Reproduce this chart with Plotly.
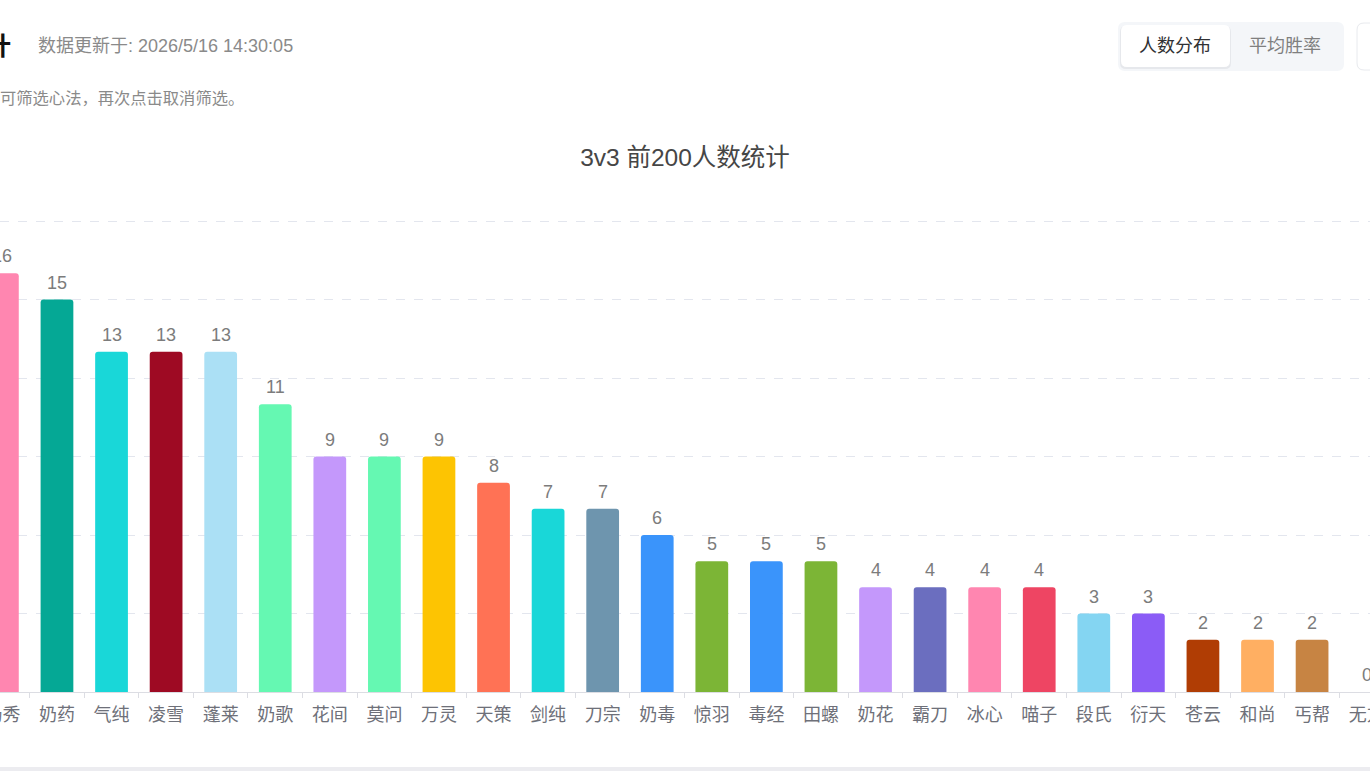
import plotly.graph_objects as go

categories = ["奶秀", "奶药", "气纯", "凌雪", "蓬莱", "奶歌", "花间", "莫问", "万灵", "天策",
              "剑纯", "刀宗", "奶毒", "惊羽", "毒经", "田螺", "奶花", "霸刀", "冰心", "喵子",
              "段氏", "衍天", "苍云", "和尚", "丐帮", "无方"]
counts = [16, 15, 13, 13, 13, 11, 9, 9, 9, 8, 7, 7, 6, 5, 5, 5, 4, 4, 4, 4, 3, 3, 2, 2, 2, 0]
bar_colors = ["#FF86B0", "#05A895", "#19D7D8", "#9E0A23", "#ABE0F5", "#65F8B2", "#C498FB", "#65F8B2",
              "#FDC402", "#FF7255", "#19D7D8", "#6E95AE", "#3A94FB", "#7CB536", "#3A94FB", "#7CB536",
              "#C498FB", "#6B6EBF", "#FF86B0", "#EE4563", "#84D5F2", "#8B5CF6", "#B03D04", "#FFAF62",
              "#C78443", "#999999"]
y_ticks = [0, 3, 6, 9, 12, 15, 18]

W, H = 1370, 771
PT, PB = 214, 692      # plot area top/bottom in pixels
Y18_PIX = 221          # where the 18 gridline sits
Y_MAX = 18 * (PB - PT) / (PB - Y18_PIX)

def px(x):
    return x / W

def py(y):
    return (PB - y) / (PB - PT)

FONT = "Liberation Sans, Noto Sans CJK SC, Microsoft YaHei, sans-serif"

fig = go.Figure()
fig.add_trace(go.Bar(
    x=categories, y=counts,
    marker=dict(color=bar_colors, cornerradius=3, line=dict(width=0)),
    width=0.6, hoverinfo="x+y", showlegend=False,
))

annotations = []
for c, v in zip(categories, counts):
    annotations.append(dict(x=c, y=v, xref="x", yref="y", text=str(v), showarrow=False,
                            yanchor="bottom", yshift=5,
                            font=dict(size=18, color="#7c7c7c", family=FONT)))

def rounded_rect(x0, y0, x1, y1, r):
    pts = []
    pts.append(f"M {px(x0 + r)},{py(y0)}")
    pts.append(f"L {px(x1 - r)},{py(y0)}")
    pts.append(f"Q {px(x1)},{py(y0)} {px(x1)},{py(y0 + r)}")
    pts.append(f"L {px(x1)},{py(y1 - r)}")
    pts.append(f"Q {px(x1)},{py(y1)} {px(x1 - r)},{py(y1)}")
    pts.append(f"L {px(x0 + r)},{py(y1)}")
    pts.append(f"Q {px(x0)},{py(y1)} {px(x0)},{py(y1 - r)}")
    pts.append(f"L {px(x0)},{py(y0 + r)}")
    pts.append(f"Q {px(x0)},{py(y0)} {px(x0 + r)},{py(y0)}")
    pts.append("Z")
    return " ".join(pts)

shapes = [
    dict(type="path", xref="paper", yref="paper", path=rounded_rect(1118, 22, 1344, 71, 7),
         fillcolor="#f4f6f9", line=dict(width=0), layer="below"),
    dict(type="path", xref="paper", yref="paper", path=rounded_rect(1120, 26, 1231, 69, 6),
         fillcolor="#e6e8ec", line=dict(width=0), layer="below"),
    dict(type="path", xref="paper", yref="paper", path=rounded_rect(1121, 25, 1230, 67, 6),
         fillcolor="#ffffff", line=dict(width=0), layer="below"),
    dict(type="path", xref="paper", yref="paper", path=rounded_rect(1357, 23, 1390, 70, 7),
         fillcolor="#ffffff", line=dict(width=1, color="#e8eaee"), layer="below"),
    dict(type="rect", xref="paper", yref="paper", x0=px(0), x1=px(W), y0=py(767), y1=py(771),
         fillcolor="#ececf0", line=dict(width=0), layer="below"),
]

annotations += [
    dict(xref="paper", yref="paper", x=px(13), y=py(46), text="<b>心法统计</b>", showarrow=False,
         xanchor="right", yanchor="middle", font=dict(size=25, color="#111111", family=FONT)),
    dict(xref="paper", yref="paper", x=px(36), y=py(46), text="数据更新于: 2026/5/16 14:30:05",
         showarrow=False, xanchor="left", yanchor="middle",
         font=dict(size=18, color="#8a8a8a", family=FONT)),
    dict(xref="paper", yref="paper", x=px(-2), y=py(98), text="可筛选心法，再次点击取消筛选。",
         showarrow=False, xanchor="left", yanchor="middle",
         font=dict(size=16.3, color="#8a8a8a", family=FONT)),
    dict(xref="paper", yref="paper", x=px(1175), y=py(46), text="人数分布", showarrow=False,
         xanchor="center", yanchor="middle", font=dict(size=18, color="#303133", family=FONT)),
    dict(xref="paper", yref="paper", x=px(1285), y=py(46), text="平均胜率", showarrow=False,
         xanchor="center", yanchor="middle", font=dict(size=18, color="#7f7f7f", family=FONT)),
]

spacing = 54.57
x0_idx = -2.4 / spacing
x1_idx = x0_idx + W / spacing

fig.update_layout(
    width=W, height=H, autosize=False,
    margin=dict(l=0, r=0, t=PT, b=H - PB, pad=0),
    paper_bgcolor="#ffffff", plot_bgcolor="#ffffff",
    title=dict(text="3v3 前200人数统计", x=0.5, xanchor="center", xref="paper",
               y=1 - 157 / H, yref="container", yanchor="middle",
               font=dict(size=24.5, color="#464646", family=FONT)),
    xaxis=dict(type="category", range=[x0_idx, x1_idx], showgrid=False, automargin=False,
               showline=True, linecolor="#dcdde3", linewidth=1,
               ticks="outside", tickson="boundaries", ticklen=5, tickcolor="#dcdde3",
               ticklabelstandoff=6,
               tickfont=dict(size=18, color="#6e7079", family=FONT), fixedrange=True),
    yaxis=dict(range=[0, Y_MAX], tickvals=y_ticks, showticklabels=False, showgrid=True,
               automargin=False,
               gridcolor="#e3e6ee", griddash="dash", gridwidth=1, zeroline=False,
               showline=False, fixedrange=True),
    shapes=shapes, annotations=annotations,
    bargap=0.4,
)

fig.write_html(
    "out.html",
    config={"responsive": False, "displayModeBar": False},
    post_script="document.body.style.margin='0px';document.body.style.padding='0px';document.body.style.overflow='hidden';",
)
